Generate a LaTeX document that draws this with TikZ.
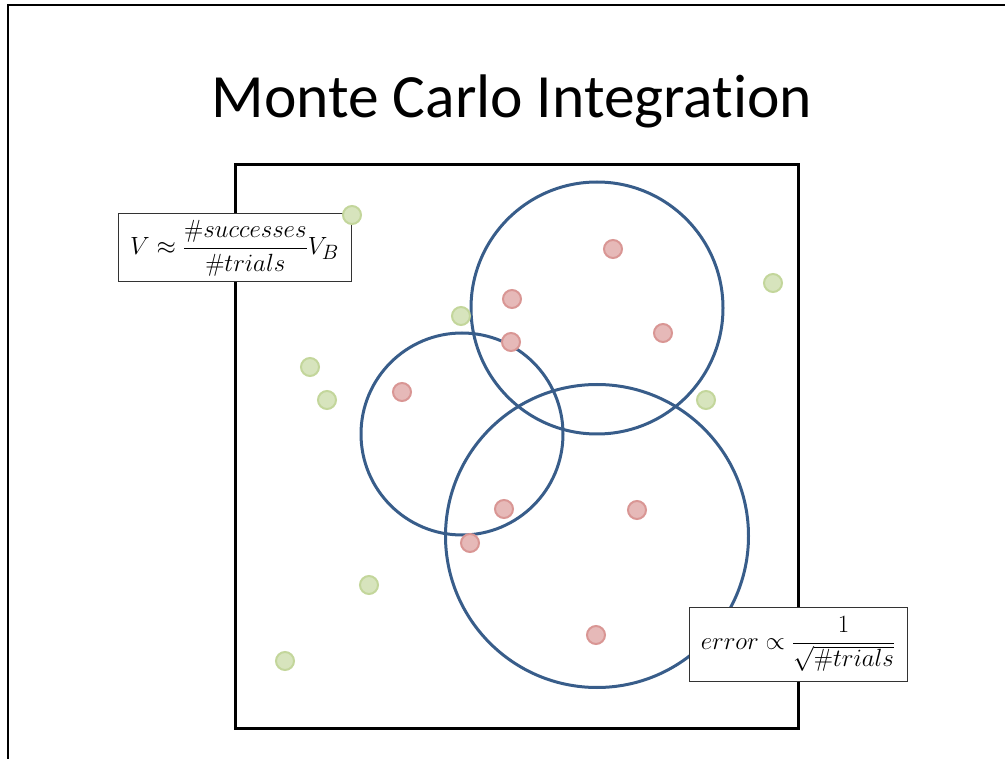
\documentclass[tikz,border=0pt]{standalone}
\usepackage{fontspec}
\newfontfamily\titlefont[Ligatures=CommonOff]{Carlito}
\definecolor{ringblue}{HTML}{385D8A}
\definecolor{redfill}{HTML}{E6B9B8}
\definecolor{redline}{HTML}{D99694}
\definecolor{greenfill}{HTML}{D7E4BD}
\definecolor{greenline}{HTML}{C3D69B}
\tikzset{
  ring/.style={circle, draw=ringblue, line width=3pt, inner sep=0pt},
  hit/.style={circle, fill=redfill, draw=redline, line width=2pt, minimum size=18pt, inner sep=0pt},
  miss/.style={circle, fill=greenfill, draw=greenline, line width=2pt, minimum size=18pt, inner sep=0pt},
  formula/.style={draw=black!80, line width=1pt, fill=white, inner sep=0pt, font=\fontsize{24.88}{30}\selectfont},
}
\begin{document}
\begin{tikzpicture}[x=1pt,y=-1pt]
\useasboundingbox (0,0) rectangle (1005,759);
% slide frame (top and left edges)
\draw[line width=2.8pt] (8,759) -- (8,5) -- (1005,5);
\node[font=\titlefont\fontsize{61.5}{70}\selectfont] (title) at (512,101) {Monte Carlo Integration};
% sample domain
\node[draw, line width=3pt, minimum width=563pt, minimum height=563pt, inner sep=0pt] (domain) at (516.5,446.5) {};
% regions
\node[ring, minimum size=252pt] (c1) at (597,308) {};
\node[ring, minimum size=202pt] (c2) at (462,434) {};
\node[ring, minimum size=303pt] (c3) at (597,536) {};
% formula boxes
\node[formula, minimum width=233pt, minimum height=68pt] (f1) at (234.5,248) {$\displaystyle V \approx \frac{\#successes}{\#trials} V_B$};
\node[formula, minimum width=218pt, minimum height=74pt] (f2) at (798,644) {$\displaystyle error \propto \frac{1}{\sqrt{\#trials}}$};
% hits
\node[hit] (h1) at (613,249) {};
\node[hit] (h2) at (512,299) {};
\node[hit] (h3) at (663,333) {};
\node[hit] (h4) at (511,342) {};
\node[hit] (h5) at (402,392) {};
\node[hit] (h6) at (504,509) {};
\node[hit] (h7) at (637,510) {};
\node[hit] (h8) at (470,543) {};
\node[hit] (h9) at (596,635) {};
% misses
\node[miss] (m1) at (352,215) {};
\node[miss] (m2) at (773,283) {};
\node[miss] (m3) at (461,316) {};
\node[miss] (m4) at (310,367) {};
\node[miss] (m5) at (327,400) {};
\node[miss] (m6) at (706,400) {};
\node[miss] (m7) at (369,585) {};
\node[miss] (m8) at (285,661) {};
\end{tikzpicture}
\end{document}
